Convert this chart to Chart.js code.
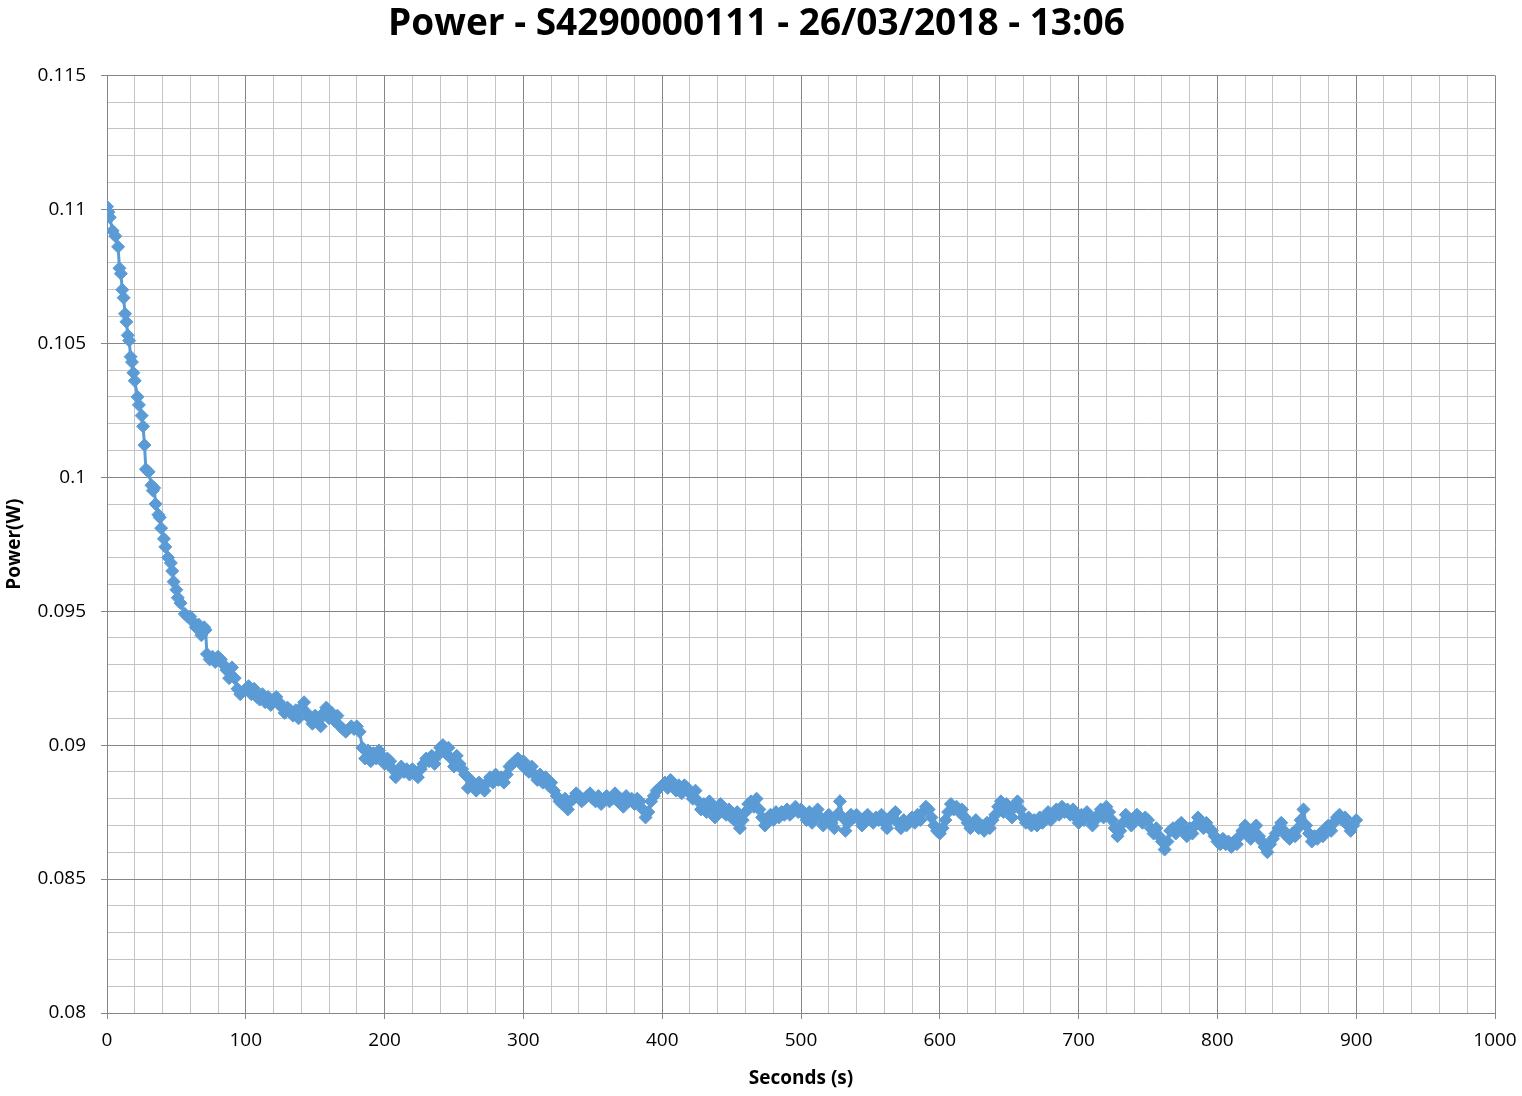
<!DOCTYPE html>
<html><head><meta charset="utf-8">
<script src="https://cdn.jsdelivr.net/npm/chart.js@4.4.1/dist/chart.umd.min.js"></script>
<style>html,body{margin:0;padding:0;background:#fff}canvas{display:block}</style>
</head><body>
<canvas id="c" width="1522" height="1096"></canvas>
<script>
const chartTitle = 'Power - S4290000111 - 26/03/2018 - 13:06';
const xTitle = 'Seconds (s)';
const yTitle = 'Power(W)';

const seconds = [
  0,1,2,4,6,8,9,10,11,12,
  13,14,15,16,17,18,19,20,22,23,
  25,26,27,28,30,32,33,34,35,37,
  38,39,41,42,44,46,47,48,50,51,
  53,56,58,60,62,64,66,67,68,70,
  71,72,74,
  76,78,80,82,84,86,88,90,92,94,
  96,98,100,102,104,106,108,110,112,114,
  116,118,120,122,124,126,128,130,132,134,
  136,138,140,142,144,146,148,150,152,154,
  156,158,160,162,164,166,168,170,172,174,
  176,178,180,182,184,186,188,190,192,194,
  196,198,200,202,204,206,208,210,212,214,
  216,218,220,222,224,226,228,230,232,234,
  236,238,240,242,244,246,248,250,252,254,
  256,258,260,262,264,266,268,270,272,274,
  276,278,280,282,284,286,288,290,292,294,
  296,298,300,302,304,306,308,310,312,314,
  316,318,320,322,324,326,328,330,332,334,
  336,338,340,342,344,346,348,350,352,354,
  356,358,360,362,364,366,368,370,372,374,
  376,378,380,382,384,386,388,390,392,394,
  396,398,400,402,404,406,408,410,412,414,
  416,418,420,422,424,426,428,430,432,434,
  436,438,440,442,444,446,448,450,452,454,
  456,458,460,462,464,466,468,470,472,474,
  476,478,480,482,484,486,488,490,492,494,
  496,498,500,502,504,506,508,510,512,514,
  516,518,520,522,524,526,528,530,532,534,
  536,538,540,542,544,546,548,550,552,554,
  556,558,560,562,564,566,568,570,572,574,
  576,578,580,582,584,586,588,590,592,594,
  596,598,600,602,604,606,608,610,612,614,
  616,618,620,622,624,626,628,630,632,634,
  636,638,640,642,644,646,648,650,652,654,
  656,658,660,662,664,666,668,670,672,674,
  676,678,680,682,684,686,688,690,692,694,
  696,698,700,702,704,706,708,710,712,714,
  716,718,720,722,724,726,728,730,732,734,
  736,738,740,742,744,746,748,750,752,754,
  756,758,760,762,764,766,768,770,772,774,
  776,778,780,782,784,786,788,790,792,794,
  796,798,800,802,804,806,808,810,812,814,
  816,818,820,822,824,826,828,830,832,834,
  836,838,840,842,844,846,848,850,852,854,
  856,858,860,862,864,866,868,870,872,874,
  876,878,880,882,884,886,888,890,892,894,
  896,898,900
];

const power = [
  0.1101,0.1099,0.1097,0.1092,0.1090,0.1086,0.1078,0.1076,0.1070,0.1067,
  0.1061,0.1058,0.1053,0.1051,0.1045,0.1043,0.1039,0.1036,0.1030,0.1027,
  0.1023,0.1019,0.1012,0.1003,0.1002,0.0997,0.0995,0.0996,0.0990,0.0986,
  0.0985,0.0981,0.0977,0.0974,0.0970,0.0968,0.0965,0.0961,0.0958,0.0955,
  0.0953,0.0949,0.0948,0.0948,0.0946,0.0944,0.0945,0.0943,0.0941,0.0944,
  0.0943,0.0934,0.0932,
  0.0933,0.0931,0.0933,0.0932,0.0930,0.0928,0.0925,0.0929,0.0925,0.0921,
  0.0919,0.0920,0.0921,0.0922,0.0919,0.0921,0.0918,0.0917,0.0919,0.0916,
  0.0918,0.0915,0.0917,0.0918,0.0916,0.0914,0.0912,0.0914,0.0913,0.0911,
  0.0913,0.0910,0.0914,0.0916,0.0912,0.0910,0.0908,0.0911,0.0909,0.0907,
  0.0912,0.0914,0.0910,0.0912,0.0909,0.0911,0.0907,0.0906,0.0905,0.0906,
  0.0907,0.0906,0.0907,0.0905,0.0899,0.0895,0.0898,0.0894,0.0897,0.0895,
  0.0898,0.0896,0.0893,0.0895,0.0894,0.0891,0.0888,0.0890,0.0892,0.0890,
  0.0891,0.0889,0.0891,0.0890,0.0888,0.0891,0.0893,0.0895,0.0894,0.0896,
  0.0893,0.0896,0.0899,0.0900,0.0897,0.0899,0.0895,0.0892,0.0896,0.0893,
  0.0891,0.0889,0.0884,0.0887,0.0885,0.0883,0.0886,0.0885,0.0883,0.0886,
  0.0888,0.0886,0.0889,0.0887,0.0888,0.0886,0.0889,0.0892,0.0893,0.0894,
  0.0895,0.0893,0.0894,0.0891,0.0890,0.0892,0.0889,0.0887,0.0889,0.0886,
  0.0888,0.0885,0.0886,0.0883,0.0881,0.0879,0.0878,0.0880,0.0876,0.0879,
  0.0880,0.0882,0.0881,0.0879,0.0880,0.0881,0.0882,0.0880,0.0879,0.0881,
  0.0878,0.0880,0.0881,0.0879,0.0880,0.0882,0.0879,0.0880,0.0877,0.0881,
  0.0879,0.0880,0.0878,0.0880,0.0879,0.0876,0.0873,0.0875,0.0879,0.0881,
  0.0883,0.0884,0.0885,0.0886,0.0884,0.0887,0.0885,0.0883,0.0885,0.0882,
  0.0885,0.0884,0.0882,0.0880,0.0883,0.0879,0.0876,0.0878,0.0875,0.0879,
  0.0877,0.0873,0.0876,0.0878,0.0875,0.0874,0.0876,0.0873,0.0872,0.0875,
  0.0869,0.0872,0.0875,0.0878,0.0879,0.0877,0.0880,0.0876,0.0873,0.0870,
  0.0872,0.0874,0.0872,0.0875,0.0873,0.0875,0.0874,0.0876,0.0874,0.0875,
  0.0877,0.0875,0.0876,0.0874,0.0872,0.0875,0.0871,0.0873,0.0876,0.0873,
  0.0870,0.0872,0.0874,0.0871,0.0869,0.0874,0.0879,0.0873,0.0868,0.0871,
  0.0874,0.0873,0.0874,0.0872,0.0870,0.0873,0.0874,0.0872,0.0871,0.0873,
  0.0872,0.0874,0.0871,0.0869,0.0872,0.0874,0.0875,0.0871,0.0869,0.0872,
  0.0870,0.0872,0.0873,0.0871,0.0874,0.0872,0.0875,0.0877,0.0876,0.0873,
  0.0870,0.0868,0.0867,0.0869,0.0872,0.0875,0.0878,0.0876,0.0877,0.0875,
  0.0876,0.0873,0.0871,0.0869,0.0870,0.0872,0.0869,0.0870,0.0868,0.0871,
  0.0869,0.0872,0.0874,0.0877,0.0879,0.0875,0.0878,0.0876,0.0873,0.0877,
  0.0879,0.0876,0.0873,0.0871,0.0873,0.0870,0.0872,0.0870,0.0873,0.0871,
  0.0873,0.0875,0.0872,0.0874,0.0876,0.0874,0.0877,0.0875,0.0876,0.0874,
  0.0876,0.0873,0.0871,0.0874,0.0872,0.0875,0.0873,0.0870,0.0872,0.0874,
  0.0876,0.0873,0.0877,0.0875,0.0872,0.0869,0.0866,0.0868,0.0871,0.0874,
  0.0872,0.0870,0.0872,0.0874,0.0873,0.0871,0.0873,0.0872,0.0869,0.0867,
  0.0869,0.0866,0.0864,0.0861,0.0864,0.0868,0.0869,0.0867,0.0870,0.0871,
  0.0868,0.0866,0.0869,0.0867,0.0870,0.0873,0.0871,0.0869,0.0871,0.0869,
  0.0868,0.0866,0.0864,0.0863,0.0865,0.0863,0.0864,0.0862,0.0864,0.0863,
  0.0866,0.0868,0.0870,0.0867,0.0865,0.0868,0.0870,0.0866,0.0864,0.0862,
  0.0860,0.0863,0.0865,0.0867,0.0869,0.0871,0.0868,0.0866,0.0865,0.0867,
  0.0866,0.0869,0.0872,0.0876,0.0870,0.0867,0.0864,0.0866,0.0865,0.0867,
  0.0866,0.0869,0.0870,0.0868,0.0871,0.0873,0.0874,0.0872,0.0873,0.0870,
  0.0868,0.0870,0.0872
];

const xRange = [0, 1000];
const xMajor = 100, xMinor = 20;
const yRange = [0.08, 0.115];
const yMajor = 5, yMinorMilli = 1; // in thousandths

const FONT = "'Open Sans', 'Liberation Sans', sans-serif";
const MAJOR = '#868686', MINOR = '#c4c4c4', BLUE = '#5B9BD5';

const isMajorX = v => Math.round(v) % xMajor === 0;
const isMajorY = v => Math.round(v * 1000) % yMajor === 0;

const points = seconds.map((s, i) => ({x: s, y: power[i]}));

new Chart(document.getElementById('c'), {
  type: 'line',
  data: {
    datasets: [{
      data: points,
      borderColor: BLUE,
      backgroundColor: BLUE,
      borderWidth: 3,
      pointStyle: 'rectRot',
      pointRadius: 6.5,
      pointBorderWidth: 1,
      pointBackgroundColor: BLUE,
      pointBorderColor: BLUE,
      tension: 0,
      fill: false
    }]
  },
  options: {
    responsive: false,
    animation: false,
    events: [],
    layout: {padding: {left: 0, right: 9, top: 0, bottom: 0}},
    plugins: {
      legend: {display: false},
      tooltip: {enabled: false},
      title: {
        display: true,
        text: chartTitle,
        color: '#000',
        font: {family: FONT, size: 37, weight: 'bold'},
        padding: {top: 2, bottom: 29}
      }
    },
    scales: {
      x: {
        type: 'linear',
        min: xRange[0], max: xRange[1],
        afterFit: s => { s.height = 83; s.paddingLeft = 0; s.paddingRight = 27; },
        ticks: {
          stepSize: xMinor, autoSkip: false, maxRotation: 0,
          color: '#000', padding: 10,
          font: {family: FONT, size: 19},
          callback: v => isMajorX(v) ? String(Math.round(v)) : ''
        },
        grid: {
          color: c => (c.tick && isMajorX(c.tick.value)) ? MAJOR : MINOR,
          tickColor: c => (c.tick && isMajorX(c.tick.value)) ? MAJOR : 'rgba(0,0,0,0)',
          tickLength: 6, lineWidth: 1
        },
        border: {color: MAJOR, width: 1},
        title: {
          display: true, text: xTitle, color: '#000',
          font: {family: FONT, size: 19, weight: 'bold'},
          padding: {top: 0, bottom: 6}
        }
      },
      y: {
        type: 'linear',
        min: yRange[0], max: yRange[1],
        afterFit: s => { s.width = 107; },
        ticks: {
          stepSize: yMinorMilli / 1000, autoSkip: false,
          color: '#000', padding: 15,
          font: {family: FONT, size: 19},
          callback: v => isMajorY(v) ? String(+v.toFixed(3)) : ''
        },
        grid: {
          color: c => (c.tick && isMajorY(c.tick.value)) ? MAJOR : MINOR,
          tickColor: c => (c.tick && isMajorY(c.tick.value)) ? MAJOR : 'rgba(0,0,0,0)',
          tickLength: 6, lineWidth: 1
        },
        border: {color: MAJOR, width: 1},
        title: {
          display: true, text: yTitle, color: '#000',
          font: {family: FONT, size: 19, weight: 'bold'},
          padding: {top: 3, bottom: 0}
        }
      }
    }
  }
});
</script>
</body></html>
